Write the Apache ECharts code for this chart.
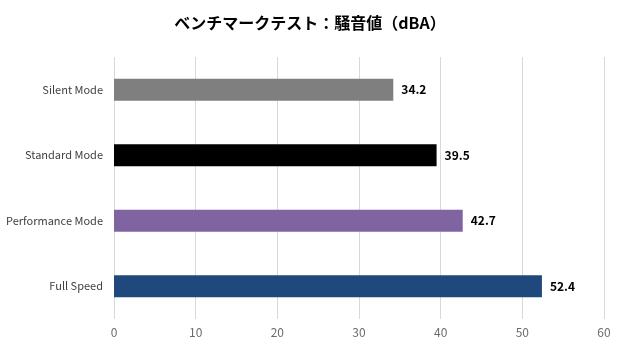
<!DOCTYPE html>
<html>
<head>
<meta charset="utf-8">
<script src="https://cdn.jsdelivr.net/npm/echarts@6/dist/echarts.min.js"></script>
<style>
html, body { margin: 0; padding: 0; background: #fff; }
#chart { width: 620px; height: 350px; }
</style>
</head>
<body>
<div id="chart"></div>
<script>
// Noise level benchmark per operating mode (dBA)
const categories = ['Silent Mode', 'Standard Mode', 'Performance Mode', 'Full Speed'];
const values = [34.2, 39.5, 42.7, 52.4];
const barColors = ['#7f7f7f', '#000000', '#8064a2', '#1f497d'];
const xTicks = [0, 10, 20, 30, 40, 50, 60];

const chart = echarts.init(document.getElementById('chart'), null, { renderer: 'canvas' });
const font = '"Noto Sans CJK JP", "Noto Sans", sans-serif';

chart.setOption({
  animation: false,
  backgroundColor: '#ffffff',
  title: {
    text: 'ベンチマークテスト：騒音値（dBA）',
    left: 'center',
    top: 10,
    textStyle: { fontFamily: font, fontSize: 16, fontWeight: 'bold', color: '#000' }
  },
  grid: { left: 114, right: 16, top: 57, bottom: 31, containLabel: false },
  xAxis: {
    type: 'value',
    min: xTicks[0],
    max: xTicks[xTicks.length - 1],
    interval: 10,
    axisLine: { show: false },
    axisTick: { show: false },
    splitLine: { show: true, lineStyle: { color: '#d9d9d9', width: 1 } },
    axisLabel: { color: '#6b6b6b', fontSize: 12, fontFamily: font, margin: 7 }
  },
  yAxis: {
    type: 'category',
    data: categories,
    inverse: true,
    axisLine: { show: false },
    axisTick: { show: false },
    axisLabel: { color: '#404040', fontSize: 11, fontFamily: font, margin: 11 }
  },
  series: [{
    type: 'bar',
    barWidth: 22,
    data: values.map((v, i) => ({ value: v, itemStyle: { color: barColors[i] } })),
    label: {
      show: true,
      position: 'right',
      distance: 8,
      color: '#000',
      fontSize: 12,
      fontWeight: 'bold',
      fontFamily: font,
      formatter: p => p.value.toFixed(1)
    }
  }]
});
</script>
</body>
</html>
